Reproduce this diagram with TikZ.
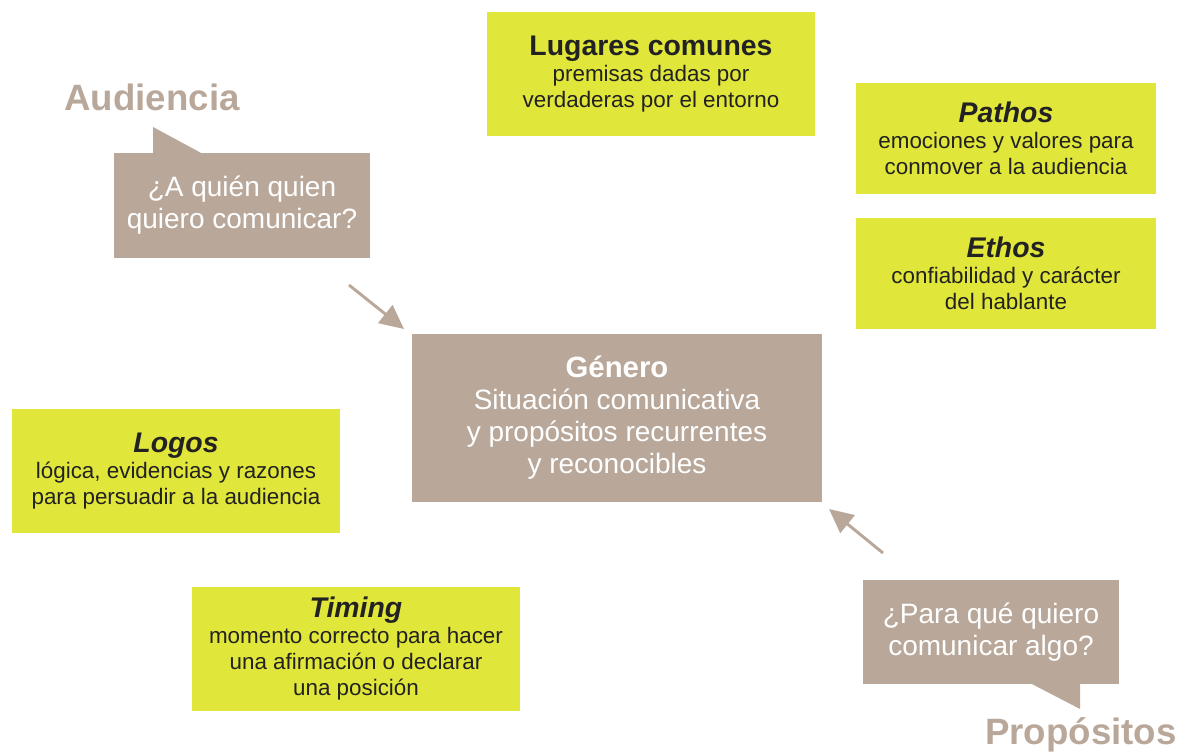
\documentclass[tikz,border=0pt]{standalone}
\usepackage{fontspec}
\setmainfont{Liberation Sans}
\usepackage{xcolor}
\usepackage{tikz}
\usetikzlibrary{positioning,arrows.meta}

\definecolor{lima}{HTML}{E1E63A}
\definecolor{arena}{HTML}{B9A89A}
\definecolor{tinta}{HTML}{222222}

\begin{document}
\begin{tikzpicture}[x=0.75pt, y=-0.75pt,
    cajalima/.style={fill=lima, inner sep=0pt, align=center, text=tinta,
        font=\fontsize{16.8}{19.5}\selectfont},
    cajaarena/.style={fill=arena, inner sep=0pt, align=center, text=white},
    etiqueta/.style={text=arena, font=\fontsize{27.5}{30}\selectfont\bfseries},
    flecha/.style={-{Triangle[length=18pt,width=17pt]}, line width=2.2pt, arena}]
            \useasboundingbox (0,0) rectangle (1181,755);

            % Lugares comunes
            \node[cajalima, minimum width=328*0.75pt, minimum height=124*0.75pt] (lugares) at (651,74)
                {{\fontsize{21.3}{24}\selectfont\bfseries Lugares comunes}\\premisas dadas por\\verdaderas por el entorno};

            % Pathos
            \node[cajalima, minimum width=300*0.75pt, minimum height=111*0.75pt] (pathos) at (1006,138.5)
                {{\fontsize{21.3}{24}\selectfont\bfseries\itshape Pathos}\\emociones y valores para\\conmover a la audiencia};

            % Ethos
            \node[cajalima, minimum width=300*0.75pt, minimum height=111*0.75pt] (ethos) at (1006,273.5)
                {{\fontsize{21.3}{24}\selectfont\bfseries\itshape Ethos}\\confiabilidad y carácter\\del hablante};

            % Logos
            \node[cajalima, minimum width=328*0.75pt, minimum height=124*0.75pt] (logos) at (176,471)
                {{\fontsize{21.3}{24}\selectfont\bfseries\itshape Logos}\\lógica, evidencias y razones\\para persuadir a la audiencia};

            % Timing
            \node[cajalima, minimum width=328*0.75pt, minimum height=124*0.75pt] (timing) at (356,649)
                {{\fontsize{21.3}{24}\selectfont\bfseries\itshape Timing}\\momento correcto para hacer\\una afirmación o declarar\\una posición};

            % Genero
            \node[cajaarena, minimum width=410*0.75pt, minimum height=168*0.75pt,
                font=\fontsize{21}{24}\selectfont] (genero) at (617,418)
                {{\fontsize{22}{24}\selectfont\bfseries Género}\\Situación comunicativa\\y propósitos recurrentes\\y reconocibles};

            % Audiencia
            \node[etiqueta] (audiencia) at (152,97) {Audiencia};
            \fill[arena] (153,154) -- (153,127) -- (203,154) -- cycle;
            \node[cajaarena, minimum width=256*0.75pt, minimum height=105*0.75pt,
                font=\fontsize{21}{24}\selectfont] (audbox) at (242,205.5)
                {¿A quién quien\\quiero comunicar?};

            % Propositos
            \fill[arena] (1030,683) -- (1080,709) -- (1080,683) -- cycle;
            \node[cajaarena, minimum width=256*0.75pt, minimum height=104*0.75pt,
                font=\fontsize{21}{24}\selectfont] (propbox) at (991,632)
                {¿Para qué quiero\\comunicar algo?};
            \node[etiqueta] (propositos) at (1081,735) {Propósitos};

            % Flechas
            \coordinate (audcola) at (349,285);
            \coordinate (audpunta) at (404,329);
            \coordinate (propcola) at (883,553);
            \coordinate (proppunta) at (829,509);
            \draw[flecha] (audcola) -- (audpunta);
            \draw[flecha] (propcola) -- (proppunta);
        \end{tikzpicture}
\end{document}
